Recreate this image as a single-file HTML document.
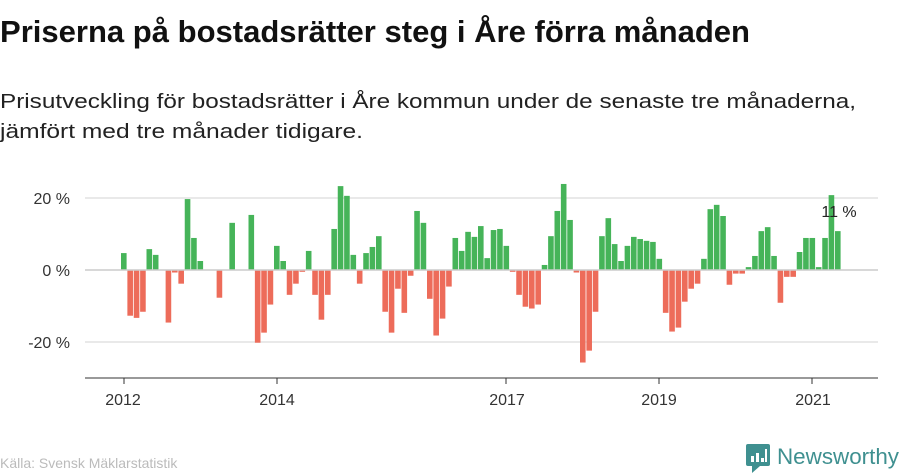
<!DOCTYPE html>
<html><head><meta charset="utf-8"><style>
html,body{margin:0;padding:0;background:#fff;}
svg{display:block;}
</style></head><body>
<svg id="c" width="900" height="474" xmlns="http://www.w3.org/2000/svg" font-family="Liberation Sans, DejaVu Sans, sans-serif">
<text x="0" y="42" font-family="Liberation Sans Narrow, Liberation Sans, sans-serif" font-weight="bold" font-size="31" fill="#111" textLength="750" lengthAdjust="spacingAndGlyphs">Priserna på bostadsrätter steg i Åre förra månaden</text>
<text x="0" y="108" font-size="20" fill="#222" textLength="856" lengthAdjust="spacingAndGlyphs">Prisutveckling för bostadsrätter i Åre kommun under de senaste tre månaderna,</text>
<text x="0" y="138" font-size="20" fill="#222" textLength="363" lengthAdjust="spacingAndGlyphs">jämfört med tre månader tidigare.</text>
<line x1="85" y1="198" x2="878" y2="198" stroke="#e2e2e2" stroke-width="1.5"/>
<line x1="85" y1="342" x2="878" y2="342" stroke="#e2e2e2" stroke-width="1.5"/>
<text x="70" y="204" font-size="16" fill="#333" text-anchor="end">20 %</text>
<text x="70" y="276" font-size="16" fill="#333" text-anchor="end">0 %</text>
<text x="70" y="348" font-size="16" fill="#333" text-anchor="end">-20 %</text>
<g id="bars"></g>
<line x1="85" y1="270" x2="878" y2="270" stroke="#ccc" stroke-width="1.5"/>
<line x1="85" y1="378" x2="878" y2="378" stroke="#333" stroke-width="1"/>
<g stroke="#333"><line x1="124" y1="378" x2="124" y2="384"/><line x1="277" y1="378" x2="277" y2="384"/><line x1="506" y1="378" x2="506" y2="384"/><line x1="659" y1="378" x2="659" y2="384"/><line x1="812" y1="378" x2="812" y2="384"/></g>
<g font-size="16" fill="#333" text-anchor="middle"><text x="123" y="405">2012</text><text x="277" y="405">2014</text><text x="507" y="405">2017</text><text x="659" y="405">2019</text><text x="813" y="405">2021</text></g>
<text x="839" y="217" font-size="16" fill="#222" text-anchor="middle">11 %</text>
<text x="0" y="468" font-size="14" fill="#bbb">Källa: Svensk Mäklarstatistik</text>
<g fill="#3f9090">
<rect x="746" y="444" width="24" height="22" rx="2"/>
<polygon points="752,466 760,466 752,473"/>
</g>
<g fill="#fff"><rect x="751" y="456" width="3" height="6"/><rect x="756" y="453" width="3" height="9"/><rect x="761" y="458" width="3" height="4"/><rect x="765" y="449" width="2" height="13"/></g>
<text x="777" y="464" font-size="22" fill="#3f9090" textLength="122" lengthAdjust="spacingAndGlyphs">Newsworthy</text>
</svg>
<script>
var v=[4.7,-12.7,-13.3,-11.6,5.8,4.2,0,-14.6,-0.7,-3.8,19.7,8.9,2.5,0,0,-7.7,0,13.1,0,0,15.3,-20.2,-17.4,-9.6,6.7,2.5,-6.9,-3.8,-0.5,5.3,-6.9,-13.8,-6.9,11.4,23.3,20.6,4.2,-3.8,4.7,6.4,9.4,-11.6,-17.4,-5.2,-11.9,-1.6,16.4,13.1,-8.0,-18.2,-13.5,-4.6,8.9,5.3,10.6,9.2,12.2,3.3,11.1,11.4,6.7,-0.5,-6.9,-10.2,-10.7,-9.6,1.4,9.4,16.4,23.9,13.9,-0.7,-25.7,-22.4,-11.6,9.4,14.4,7.2,2.5,6.7,9.2,8.6,8.1,7.8,3.1,-11.9,-17.1,-16.0,-8.8,-5.2,-3.8,3.1,16.9,18.1,15.0,-4.1,-1.0,-1.0,0.8,3.9,10.8,11.9,3.9,-9.1,-1.9,-1.9,5.0,8.9,8.9,0.8,8.9,20.8,10.8];
var s='';
for(var i=0;i<v.length;i++){var x=121+i*6.375,h=Math.abs(v[i])*3.6;if(!h)continue;
if(v[i]>0)s+='<rect x="'+x+'" y="'+(270-h)+'" width="5.6" height="'+h+'" fill="#46b459"/>';
else s+='<rect x="'+x+'" y="270" width="5.6" height="'+h+'" fill="#ed6c5a"/>';}
document.getElementById('bars').innerHTML=s;
</script>
</body></html>
